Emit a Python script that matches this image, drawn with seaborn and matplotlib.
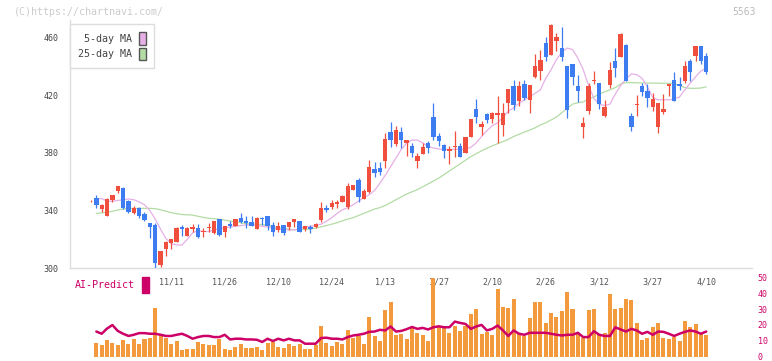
import numpy as np
import pandas as pd
import matplotlib.pyplot as plt
import seaborn as sns
from matplotlib.patches import Patch, Rectangle

nan = np.nan

# Daily candles (oldest first), the last one is 4/10
opens = [346.3, 349, 341, 336.5, 347.3, 353.8, 355.4, 346.6, 338, 341.5,
         337.3, 331, 330, 302, 313.2, 317.4, 318.3, 328.8, 322.3, 326.9,
         328, 324.8, 327.6, 324.1, 334, 324.8, 330.4, 329.5, 335, 333,
         331.8, 327.1, 335, 336.2, 329.9, 326.4, 329.9, 328.8, 331.8, 332.7,
         327.4, 328.8, 328.8, 333.4, 342, 342.7, 344.5, 346.2, 342.7, 354.4,
         361.2, 348, 352.6, 368.8, 369.5, 374.7, 394.4, 386.4, 394.4, 387.2,
         384.9, 374.7, 379.3, 386.8, 405.3, 391.8, 385.6, 381.6, 384, 384.9,
         380.2, 391.3, 410.5, 397.9, 407.1, 403.5, 406.4, 399.5, 415, 426.6,
         416.2, 428, 417, 433.2, 437.1, 456.3, 448.2, 457.6, 453.2, 440.3,
         441.7, 426.3, 398.3, 409.4, 429.8, 428.6, 405.4, 427.3, 444, 447,
         454.8, 406, 413.7, 426.6, 423.1, 412.3, 397.9, 408.3, 426.3, 430.8,
         428.3, 429.8, 444, 447.4, 454.3, 447.5]
highs = [347, 351, 344.5, 348.5, 351, 357.3, 356, 347, 343, 342.5,
         339.2, 331.5, 331, 312, 318.5, 320.5, 328.2, 329.8, 328.2, 330.4,
         330.4, 327.6, 331.5, 333, 334.3, 329.5, 332.9, 334.3, 338.5, 335.9,
         336.4, 335.2, 335.2, 336.5, 331.8, 331.8, 330.2, 331.9, 334.3, 333,
         329.5, 330, 331.5, 346.2, 343.8, 347, 347.6, 350.5, 359.4, 358,
         362.6, 354.9, 375.1, 373.4, 373.4, 394.1, 401.9, 398.8, 398.3, 389.3,
         387, 379.8, 386.8, 388.3, 414.5, 394, 386, 384.9, 395, 386.8,
         391.3, 403.8, 417.4, 402.6, 407.6, 408.2, 419.7, 415, 424.7, 430.5,
         429.8, 430.8, 427.2, 448.7, 451.6, 461, 469.7, 463.7, 467.4, 440.5,
         442, 434.3, 405.3, 428.5, 437, 428.8, 416.9, 443.5, 452.9, 463.3,
         455.8, 407.6, 420, 428.5, 427.8, 421.6, 414.7, 420.9, 428.2, 436,
         433.2, 444, 445.3, 454.5, 454.5, 449.4]
lows = [346, 341.5, 339, 336, 345.7, 352, 341, 338, 337.5, 334.8,
        332.5, 321, 299.5, 300.8, 308.6, 313.2, 318, 322, 322, 324.9,
        321, 321.8, 325.3, 323.4, 322.3, 321.8, 327.8, 329.3, 331, 327.8,
        329, 327, 329.9, 326.4, 322.3, 324.9, 323.2, 326.4, 328.8, 325,
        326, 324.5, 327.9, 332, 339.2, 341, 342, 346, 341, 354,
        346.2, 347.8, 352.4, 363.5, 365, 369.4, 384.4, 385, 383.4, 377.9,
        377.4, 369.4, 379, 379.8, 389, 384.9, 376.3, 372.4, 377.4, 377.2,
        380, 391, 401, 392.5, 400.6, 400.6, 387.3, 391.8, 407.6, 409.9,
        413, 416.9, 407.6, 432, 430.8, 444, 448, 450.7, 444, 404.6,
        427.4, 415.4, 390.7, 407.1, 428, 410.6, 405.2, 425.5, 433.2, 446.8,
        429.8, 395.3, 405.4, 419.5, 412.3, 409.4, 393.8, 407.1, 419.5, 416,
        424, 428.5, 430.1, 444, 441.7, 434.8]
closes = [346.8, 343.5, 344, 348, 350.8, 357, 341.5, 339.2, 341.5, 336.4,
          333.4, 328.7, 303.3, 311.8, 318.3, 320.2, 328, 327.3, 328, 328.3,
          321.8, 325.7, 328.3, 332.7, 323, 329.2, 329.2, 334.1, 332.2, 331.6,
          329.2, 335, 333.9, 329.5, 325.3, 329.2, 324.6, 331.8, 334.1, 325.3,
          329.2, 327.4, 330.4, 342, 340.5, 345.4, 346.2, 350.1, 357, 357.7,
          349.6, 353.3, 370.3, 366.3, 366.8, 389.7, 389, 396, 388.7, 389,
          380.2, 377.9, 384, 383.7, 391.3, 388.3, 381.6, 382.6, 384.9, 377.4,
          391, 403.5, 404.9, 400.2, 403.1, 408, 407.6, 408, 424.5, 413.4,
          426.3, 418.6, 427, 440.8, 444.7, 446.5, 469, 460.5, 447, 410,
          432.6, 422.8, 401.2, 426.3, 430.8, 414, 412.3, 437.7, 438.9, 462.6,
          429.8, 398.3, 414, 422.7, 418.6, 417.7, 414.5, 410.6, 428, 416.2,
          426.3, 440.8, 436.6, 454.3, 443.8, 436.6]

ma5 = [nan, 348, 348.3, 346.5, 346.4, 347, 347.5, 348, 347.5, 346, 344,
       340, 334, 327, 320.5, 317, 316, 316, 320, 324.5, 326,
       325.5, 325.3, 326.5, 327.5, 328, 328.5, 329, 329.5, 330, 330,
       329.5, 329, 328.5, 327.6, 327, 326.8, 326.5, 326.5, 327.5, 328.5,
       329, 329.5, 330.5, 332.5, 335, 338, 340.5, 342, 344, 346.5,
       349, 351, 354, 359, 364.5, 370.5, 376.5, 382.5, 387, 389,
       389, 387, 384.5, 383.5, 382.8, 382.5, 382.5, 382.5, 382.6, 382.6,
       384, 387, 391.5, 395.5, 399, 401, 405, 409, 411.5, 414.5,
       417, 419, 421.5, 424, 432, 438, 445, 450, 453, 452,
       446, 438, 427, 418, 414, 413, 414, 421, 427, 431.5,
       435, 434.5, 432, 426, 418.5, 417, 417, 417, 417.5, 419,
       424, 428.6, 433, 437, 439]
ma25 = [nan, 338, 338.3, 338.8, 339.5, 340.3, 341, 341.5, 341.5, 341.5, 341.5,
        341.5, 341.3, 340.5, 339.5, 338.5, 337.8, 337.2, 337, 336.8, 336,
        335.2, 334.6, 334.3, 334, 333.3, 332.7, 332.2, 331.5, 330.8, 330.6,
        330.5, 330.2, 329.5, 328.7, 328, 327.5, 327, 326.6, 326.6, 326.8,
        327, 327.8, 328.6, 329.5, 330.5, 331.5, 332.8, 334, 335, 336.5,
        338, 339.5, 341, 342, 343.5, 345.5, 347.5, 349.5, 351.5, 353,
        354.5, 356.5, 358.5, 360.5, 362.5, 365, 367.5, 370, 372.5, 375,
        377.5, 379.5, 381.5, 383.3, 385, 386.5, 388, 389.5, 391.5, 393,
        394.5, 396, 397.5, 399.5, 401, 403, 405, 408, 411, 414,
        415, 415.5, 417.5, 419, 421, 422.5, 424, 425.5, 428, 429,
        429, 428.8, 428.7, 428.7, 428.6, 428.6, 428.5, 428.5, 428.3, 427,
        425.5, 425, 425, 425.2, 426]

# lower panel: volume bars and AI-Predict line (right scale 0-50)
volume = [nan, 8.75, 7.1, 10.6, 8.75, 7.5, 10.6, 8.1, 10.8, 8.1, 11.25,
          11.7, 31, 13.3, 11.9, 8.1, 10, 4, 5, 5, 9.2,
          8.1, 7.5, 7.5, 11.25, 4.6, 4, 6.25, 8.1, 5.6, 5.6,
          6, 4, 8.75, 9.2, 6.25, 5.6, 7.9, 6.7, 8.1, 4.6,
          4.6, 7.1, 19.6, 8.75, 6.7, 9.2, 8.1, 16.9, 11.9, 13,
          8.1, 25.2, 13, 9.6, 29.6, 34.2, 13.3, 14.4, 11.25, 18.1,
          15, 13.75, 9.6, 49.4, 18.5, 17.9, 15, 19.4, 16.4, 19.4,
          26.9, 30, 14.4, 15.8, 13.75, 42.5, 31.5, 30.6, 36.25, 14.4,
          12.7, 24.4, 34.8, 34.2, 21.25, 27.5, 25.2, 28.5, 41, 30,
          15, 11.9, 29.4, 30, 14.4, 15, 39.4, 30, 30.6, 36.25,
          35.6, 21.25, 10.6, 11.9, 18.5, 21.25, 11.9, 11.25, 12.3, 9.6,
          22.7, 18.5, 20.6, 15, 13.75]
ai_predict = [nan, 15.8, 14.4, 17.7, 19.9, 16.2, 14.4, 13, 13.75, 14.8, 14.8,
              14.4, 14.4, 13.75, 13, 13, 13.75, 14.4, 13, 11.25, 12.3,
              13, 13, 12.3, 12.3, 13.75, 10.8, 11.25, 11.25, 10.8, 10.8,
              10.6, 9.2, 11.25, 9.8, 11.25, 10.2, 11.25, 10.2, 10.2, 8.1,
              8.1, 8.1, 11.7, 11.9, 11.25, 11.25, 10.8, 12.3, 13.3, 13.75,
              14.4, 15.6, 15.8, 16.9, 16.5, 19, 15.8, 16.2, 17.3, 18.7,
              17.5, 18.1, 17.1, 18.5, 19.1, 18.5, 18.5, 22.1, 21.25, 20.6,
              17.5, 19, 20, 16.5, 17.5, 19.6, 16.5, 13, 16.5, 14.4,
              13.75, 15, 15, 15, 15, 14.4, 13.75, 13.3, 13.75, 13.75,
              15, 12.3, 12.3, 16, 13.75, 13, 13, 18.5, 17.1, 15.8,
              17.5, 16.5, 14.4, 15.6, 13.75, 15.8, 15.6, 14.4, 13, 14.4,
              15.6, 16.5, 15.8, 14.4, 15.8]

date_labels = ['11/11', '11/26', '12/10', '12/24', '1/13', '1/27',
               '2/10', '2/26', '3/12', '3/27', '4/10']
label_pos = [15, 25, 35, 45, 55, 65, 75, 85, 95, 105, 115]

df = pd.DataFrame({'open': opens, 'high': highs, 'low': lows, 'close': closes,
                   'ma5': ma5, 'ma25': ma25, 'volume': volume, 'ai': ai_predict})
df['idx'] = np.arange(len(df))

UP = '#f04f3e'
DOWN = '#3d7cf1'
PINK = '#e6b0e6'
GREEN = '#b3dca5'
MAGENTA = '#cc0066'
GRID = '#dddddd'

sns.set_style('white')
plt.rcParams['font.family'] = ['DejaVu Sans Mono']

W, H = 772, 361
fig = plt.figure(figsize=(W / 100, H / 100), dpi=100)
ax = fig.add_axes([70 / W, 1 - 268 / H, 682 / W, 248 / H])
ax2 = fig.add_axes([70 / W, 1 - 356.5 / H, 682 / W, 79 / H])

xlim = (-3.925, 123.55)

# moving averages
sns.lineplot(data=df, x='idx', y='ma25', color=GREEN, lw=0.9, ax=ax, zorder=2)
sns.lineplot(data=df, x='idx', y='ma5', color=PINK, lw=0.9, ax=ax, zorder=2)

# candles
up = df['close'] >= df['open']
colors = np.where(up, UP, DOWN)
ax.vlines(df['idx'], df['low'], df['high'], colors=colors, lw=0.9, zorder=3)
body = np.maximum((df['close'] - df['open']).abs(), 0.5)
ax.bar(df['idx'], body, bottom=df[['open', 'close']].min(axis=1),
       width=0.82, color=colors, linewidth=0, zorder=4)

ax.set_xlim(*xlim)
ax.set_ylim(300, 300 + 248 / 1.4375)
ax.set_xlabel('')
ax.set_ylabel('')
for s in ['top', 'right']:
    ax.spines[s].set_visible(False)
for s in ['left', 'bottom']:
    ax.spines[s].set_color(GRID)
    ax.spines[s].set_linewidth(1)

ax.set_xticks(np.linspace(xlim[0], xlim[1], 12))
ax.set_xticklabels([])
ax.tick_params(axis='x', which='major', direction='inout', length=8,
               width=1, color=GRID)
ax.set_xticks(label_pos, date_labels, minor=True)
ax.tick_params(axis='x', which='minor', length=0, pad=7, labelsize=6,
               labelcolor='#555555')
ax.set_yticks([300, 340, 380, 420, 460])
ax.tick_params(axis='y', length=4, width=1, color=GRID, pad=4,
               labelsize=6, labelcolor='#444444')

handles = [Patch(facecolor=PINK, edgecolor='#555555', lw=1),
           Patch(facecolor=GREEN, edgecolor='#555555', lw=1)]
leg = ax.legend(handles, ['5-day MA', '25-day MA'], loc='upper left',
                bbox_to_anchor=(70 / W, 1 - 24 / H),
                bbox_transform=fig.transFigure, markerfirst=False,
                fontsize=7.2, handlelength=0.7, handleheight=1.5,
                handletextpad=0.6, labelspacing=0.3, borderpad=0.85,
                borderaxespad=0, fancybox=False, edgecolor=GRID,
                labelcolor='#444444', framealpha=1)
leg.get_frame().set_linewidth(1)

# lower panel
ax2.bar(df['idx'], df['volume'], width=0.75, color='#f39a3c', linewidth=0)
sns.lineplot(data=df, x='idx', y='ai', color=MAGENTA, lw=1.8, ax=ax2)
ax2.set_xlim(*xlim)
ax2.set_ylim(0, 50)
ax2.set_xlabel('')
ax2.set_ylabel('')
ax2.set_xticks([])
ax2.yaxis.tick_right()
ax2.set_yticks([0, 10, 20, 30, 40, 50])
ax2.tick_params(axis='y', length=0, pad=4, labelsize=6, labelcolor=MAGENTA)
for s in ax2.spines.values():
    s.set_visible(False)
ax2.patch.set_alpha(0)

fig.text(14 / W, 1 - 12 / H, '(C)https://chartnavi.com/', color='#cccccc',
         fontsize=7.2, va='center')
fig.text(756 / W, 1 - 12 / H, '5563', color='#bbbbbb', fontsize=7,
         va='center', ha='right')
fig.text(75 / W, 1 - 285 / H, 'AI-Predict', color=MAGENTA, fontsize=7.2,
         va='center')
fig.patches.append(Rectangle((142 / W, 1 - 293 / H), 7 / W, 16 / H,
                             color=MAGENTA, transform=fig.transFigure))

fig.savefig('out.png', dpi=100)
